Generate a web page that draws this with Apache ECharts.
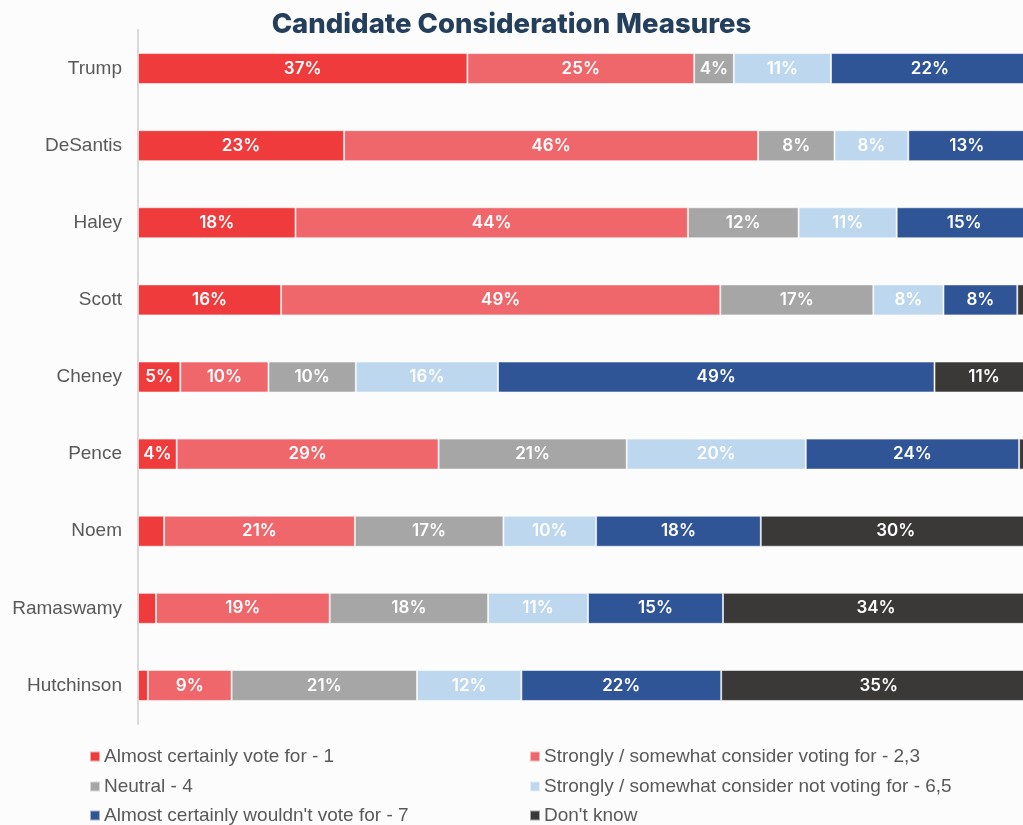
<!DOCTYPE html>
<html>
<head>
<meta charset="utf-8">
<script src="https://cdn.jsdelivr.net/npm/echarts@6/dist/echarts.min.js"></script>
<style>
  html, body { margin: 0; padding: 0; background: #fcfcfc; }
  #chart { width: 1023px; height: 825px; }
</style>
</head>
<body>
<div id="chart"></div>
<script>
const categories = ['Trump', 'DeSantis', 'Haley', 'Scott', 'Cheney', 'Pence', 'Noem', 'Ramaswamy', 'Hutchinson'];
const seriesNames = [
  'Almost certainly vote for - 1',
  'Strongly / somewhat consider voting for - 2,3',
  'Neutral - 4',
  'Strongly / somewhat consider not voting for - 6,5',
  "Almost certainly wouldn't vote for - 7",
  "Don't know"
];
const almostCertainlyFor = [36.6, 22.9, 17.5, 15.9, 4.7, 4.3, 2.9, 2.0, 1.1];
const considerFor        = [25.2, 46.0, 43.6, 48.8, 9.8, 29.1, 21.2, 19.3, 9.3];
const neutral            = [4.4, 8.49, 12.3, 17.0, 9.7, 20.9, 16.5, 17.6, 20.6];
const considerNot        = [10.8, 8.2, 10.9, 7.8, 15.8, 19.9, 10.3, 11.1, 11.6];
const wouldntVote        = [22.0, 13.0, 15.0, 8.2, 48.5, 23.7, 18.3, 15.0, 22.2];
const dontKnow           = [1.0, 1.4, 0.7, 2.3, 11.0, 2.1, 30.0, 34.0, 35.0];

const colors = ['#EF3B3B', '#EF676B', '#A6A6A6', '#BDD7EE', '#2F5597', '#3B3838'];
const allData = [almostCertainlyFor, considerFor, neutral, considerNot, wouldntVote, dontKnow];

const chart = echarts.init(document.getElementById('chart'), null, { renderer: 'canvas' });

const series = allData.map((d, i) => ({
  name: seriesNames[i],
  type: 'bar',
  stack: 'total',
  barWidth: 31,
  data: d,
  itemStyle: { color: colors[i], borderColor: 'rgba(255,255,255,0.55)', borderWidth: 1 },
  label: {
    show: true,
    position: 'inside',
    color: '#ffffff',
    fontFamily: 'Inter',
    fontWeight: 600,
    fontSize: 17,
    formatter: p => (p.value >= 3.5 ? Math.round(p.value) + '%' : '')
  },
  emphasis: { disabled: true },
  animation: false
}));

const legendPos = [
  { left: 89, top: 747 }, { left: 529, top: 747 },
  { left: 89, top: 777 }, { left: 529, top: 777 },
  { left: 89, top: 806 }, { left: 529, top: 806 }
];
const legends = seriesNames.map((n, i) => ({
  data: [n],
  left: legendPos[i].left,
  top: legendPos[i].top,
  padding: 0,
  icon: 'rect',
  itemWidth: 10,
  itemHeight: 10,
  itemGap: 0,
  textStyle: { color: '#595959', fontSize: 19, fontFamily: 'Liberation Sans', padding: [0, 0, 0, -1] },
  selectedMode: false
}));

chart.setOption({
  backgroundColor: '#fcfcfc',
  animation: false,
  title: {
    text: 'Candidate Consideration Measures',
    left: 'center',
    top: 6,
    textStyle: { color: '#243F5C', fontSize: 27.5, fontWeight: 800, fontFamily: 'Inter' }
  },
  legend: legends,
  grid: { left: 138, width: 900, top: 30, height: 694, outerBoundsMode: 'none', containLabel: false },
  xAxis: {
    type: 'value',
    min: 0,
    max: 100,
    show: false
  },
  yAxis: {
    type: 'category',
    data: categories,
    inverse: true,
    axisLine: { show: true, lineStyle: { color: '#D9D9D9', width: 2 } },
    axisTick: { show: false },
    axisLabel: { color: '#595959', fontSize: 19, fontFamily: 'Liberation Sans', margin: 16 }
  },
  series: series
});
</script>
</body>
</html>
